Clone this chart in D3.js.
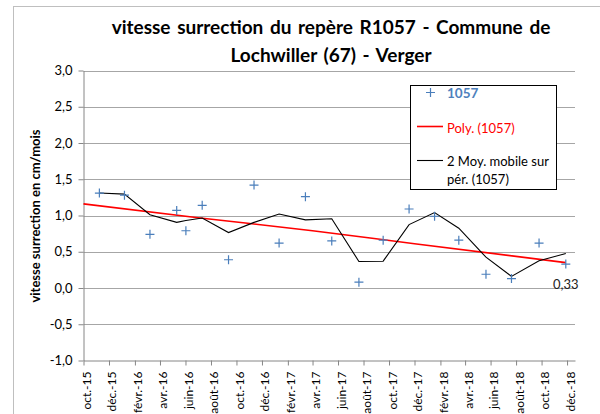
<!DOCTYPE html>
<html>
<head>
<meta charset="utf-8">
<script src="https://cdn.jsdelivr.net/npm/d3@7"></script>
<style>
    body { margin: 0; background: #fff; }
    text { font-family: Lato, 'Liberation Sans', sans-serif; }
</style>
</head>
<body>
<div id="chart"></div>
<script>
// Measured dates and speeds of the R1057 mark
const dates = ['2015-11-08', '2016-01-07', '2016-03-08', '2016-05-11', '2016-06-02',
               '2016-07-11', '2016-09-12', '2016-11-12', '2017-01-11', '2017-03-15',
               '2017-05-17', '2017-07-21', '2017-09-17', '2017-11-18', '2018-01-18',
               '2018-03-17', '2018-05-21', '2018-07-21', '2018-09-25', '2018-11-28'];
const values = [1.31, 1.28, 0.74, 1.07, 0.79, 1.14, 0.39, 1.42, 0.62, 1.26,
                0.65, 0.08, 0.66, 1.09, 0.99, 0.66, 0.19, 0.13, 0.62, 0.33];

// Polynomial trend
const trendDates = ['2015-10-01', '2016-07-01', '2017-04-01', '2017-12-01', '2018-11-28'];
const trendValues = [1.16, 0.97, 0.79, 0.61, 0.35];

// Axis
const tickLabels = ['oct.-15', 'déc.-15', 'févr.-16', 'avr.-16', 'juin-16', 'août-16',
                    'oct.-16', 'déc.-16', 'févr.-17', 'avr.-17', 'juin-17', 'août-17',
                    'oct.-17', 'déc.-17', 'févr.-18', 'avr.-18', 'juin-18', 'août-18',
                    'oct.-18', 'déc.-18'];
const yTicks = [-1, -0.5, 0, 0.5, 1, 1.5, 2, 2.5, 3];

const titleLines = ['vitesse surrection du repère R1057 - Commune de',
                    'Lochwiller (67) - Verger'];
const yTitle = 'vitesse surrection en cm/mois';

var Chart = {
    init: function() {
        const parse = d3.timeParse('%Y-%m-%d');
        this.points = dates.map((d, i) => ({date: parse(d), value: values[i]}));
        // 2 period moving average, the first point keeps its own value
        this.average = this.points.map((p, i) => ({
            date: p.date,
            value: i == 0 ? p.value : (values[i - 1] + values[i]) / 2
        }));
        this.trend = trendDates.map((d, i) => ({date: parse(d), value: trendValues[i]}));

        this.x = d3.scaleTime()
                   .domain([parse('2015-10-01'), parse('2018-12-20')])
                   .range([83.5, 575]);
        this.y = d3.scaleLinear().domain([-1, 3]).range([360.5, 70.5]);

        let svg = this.svg = d3.select('#chart')
                               .append('svg')
                               .attr('width', 600)
                               .attr('height', 414);
        svg.append('rect')
           .attr('x', 13.5).attr('y', 6.5)
           .attr('width', 620).attr('height', 440)
           .attr('fill', '#fff')
           .attr('stroke', '#bfbfbf');

        this.drawTitle();
        this.drawAxes();
        this.drawSeries();
        this.drawLegend();
    },
    drawTitle: function() {
        this.svg.selectAll('.title')
            .data(titleLines)
            .join('text')
            .attr('class', 'title')
            .attr('x', 331)
            .attr('y', (d, i) => 34 + i * 28)
            .attr('text-anchor', 'middle')
            .attr('font-size', 19)
            .attr('font-weight', 'bold')
            .attr('word-spacing', 2)
            .text(d => d);

        this.svg.append('text')
            .attr('transform', 'translate(40,216) rotate(-90)')
            .attr('text-anchor', 'middle')
            .attr('font-size', 13)
            .attr('font-weight', 'bold')
            .text(yTitle);
    },
    drawAxes: function() {
        const x = this.x, y = this.y;
        const fr = d3.formatLocale({decimal: ',', thousands: ' ', grouping: [3],
                                    currency: ['', ' €'], minus: '-'});

        // Horizontal grid lines
        this.svg.append('g')
            .selectAll('line')
            .data(yTicks.slice(1))
            .join('line')
            .attr('x1', x.range()[0]).attr('x2', x.range()[1])
            .attr('y1', d => Math.round(y(d)) + 0.5)
            .attr('y2', d => Math.round(y(d)) + 0.5)
            .attr('stroke', '#a6a6a6');

        let yAxis = this.svg.append('g')
            .attr('transform', 'translate(83.5,0)')
            .call(d3.axisLeft(y).tickValues(yTicks)
                    .tickFormat(fr.format('.1f')).tickSize(5).tickSizeOuter(0));
        yAxis.select('.domain').attr('stroke', '#868686');
        yAxis.selectAll('.tick line').attr('stroke', '#868686');
        yAxis.selectAll('.tick text')
             .attr('x', -11)
             .attr('font-size', 13)
             .attr('font-family', 'Lato')
             .attr('fill', '#000');

        const tickDates = d3.timeMonth.range(new Date(2015, 9, 1), new Date(2018, 11, 2), 2);
        let xAxis = this.svg.append('g')
            .attr('transform', 'translate(0,360.5)')
            .call(d3.axisBottom(x).tickValues(tickDates)
                    .tickFormat((d, i) => tickLabels[i]).tickSize(5).tickSizeOuter(0));
        xAxis.select('.domain').attr('stroke', '#868686');
        xAxis.selectAll('.tick line').attr('stroke', '#868686');
        xAxis.selectAll('.tick text')
             .attr('transform', 'translate(7,11) rotate(-90)')
             .attr('x', 0).attr('y', 0).attr('dy', 0)
             .attr('text-anchor', 'end')
             .attr('font-size', 12)
             .attr('font-family', 'Lato')
             .attr('fill', '#000');
    },
    drawSeries: function() {
        const x = this.x, y = this.y;
        const line = d3.line().x(d => x(d.date)).y(d => y(d.value));

        this.svg.append('path')
            .attr('d', line.curve(d3.curveMonotoneX)(this.trend))
            .attr('fill', 'none')
            .attr('stroke', '#ff0000')
            .attr('stroke-width', 1.6);

        this.svg.append('path')
            .attr('d', line.curve(d3.curveLinear)(this.average))
            .attr('fill', 'none')
            .attr('stroke', '#000')
            .attr('stroke-width', 1.1);

        this.svg.selectAll('.mark')
            .data(this.points)
            .join('path')
            .attr('class', 'mark')
            .attr('transform', d => `translate(${x(d.date)},${y(d.value)})`)
            .attr('d', 'M-4.5,0H4.5M0,-4.5V4.5')
            .attr('stroke', '#4a7ebb')
            .attr('stroke-width', 1.2);

        // Label of the last value
        const last = this.points[this.points.length - 1];
        this.svg.append('text')
            .attr('x', x(last.date))
            .attr('y', y(last.value) + 25)
            .attr('text-anchor', 'middle')
            .attr('font-size', 13)
            .attr('fill', '#222')
            .text(d3.format('.2f')(last.value).replace('.', ','));
    },
    drawLegend: function() {
        let g = this.svg.append('g');
        g.append('rect')
         .attr('x', 410.5).attr('y', 85.5)
         .attr('width', 146).attr('height', 104)
         .attr('fill', '#fff')
         .attr('stroke', '#000');

        g.append('path')
         .attr('d', 'M426,92.5H435M430.5,88V97')
         .attr('stroke', '#4a7ebb').attr('stroke-width', 1.2);
        g.append('text')
         .attr('x', 447).attr('y', 97.5)
         .attr('font-size', 13.5).attr('font-weight', 'bold')
         .attr('fill', '#4f81bd')
         .text('1057');

        g.append('line')
         .attr('x1', 417).attr('x2', 443).attr('y1', 126.5).attr('y2', 126.5)
         .attr('stroke', '#ff0000').attr('stroke-width', 1.6);
        g.append('text')
         .attr('x', 447).attr('y', 132.5)
         .attr('font-size', 13)
         .attr('fill', '#ff0000')
         .text('Poly. (1057)');

        g.append('line')
         .attr('x1', 417).attr('x2', 443).attr('y1', 160.5).attr('y2', 160.5)
         .attr('stroke', '#000').attr('stroke-width', 1.1);
        g.selectAll('.mm')
         .data(['2 Moy. mobile sur', 'pér. (1057)'])
         .join('text')
         .attr('class', 'mm')
         .attr('x', 447)
         .attr('y', (d, i) => 166 + i * 18)
         .attr('font-size', 13)
         .text(d => d);
    }
};

Chart.init();
</script>
</body>
</html>
